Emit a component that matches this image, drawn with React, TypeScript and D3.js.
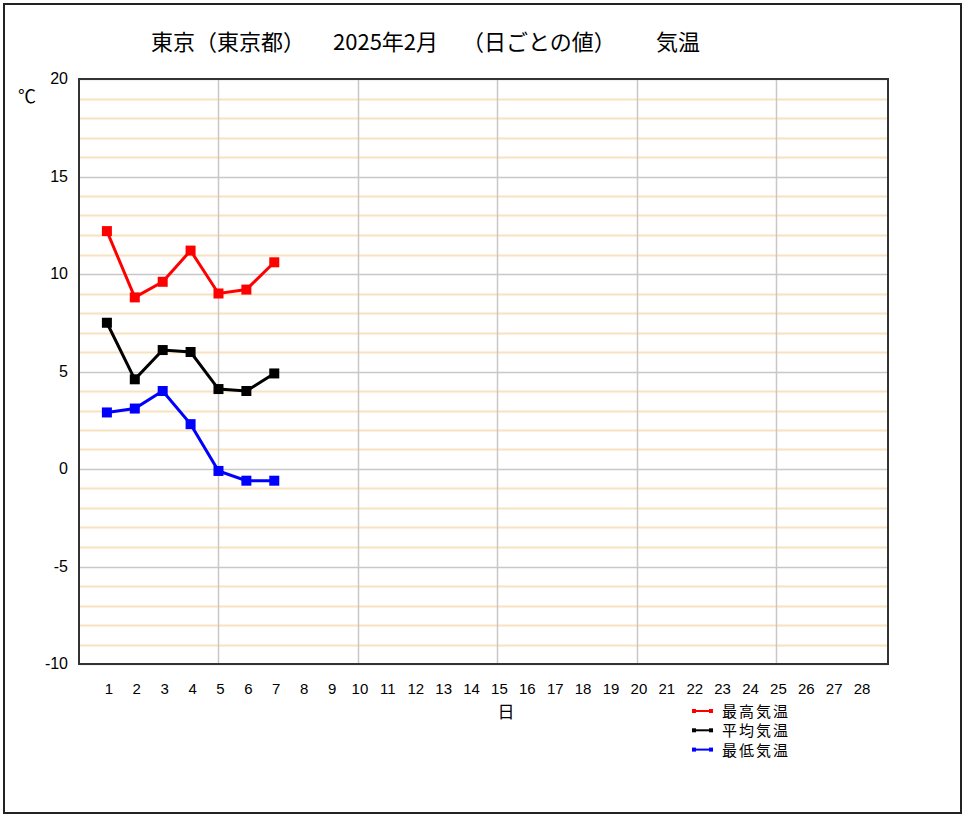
import { useEffect, useRef } from 'react';
import * as d3 from 'd3';

const days = [1, 2, 3, 4, 5, 6, 7];
const maxTemp = [12.2, 8.8, 9.6, 11.2, 9.0, 9.2, 10.6];
const meanTemp = [7.5, 4.6, 6.1, 6.0, 4.1, 4.0, 4.9];
const minTemp = [2.9, 3.1, 4.0, 2.3, -0.1, -0.6, -0.6];
const xTickLabels = d3.range(1, 29);
const yTickLabels = [20, 15, 10, 5, 0, -5, -10];
const seriesNames = ['最高気温', '平均気温', '最低気温'];
const seriesColors = ['#ff0000', '#000000', '#0000ff'];

const titleParts = [
  { text: '東京（東京都）', x: 151 },
  { text: '2025年2月', x: 333 },
  { text: '（日ごとの値）', x: 462 },
  { text: '気温', x: 656 },
];

export default function App() {
  const svgRef = useRef<SVGSVGElement>(null);

  useEffect(() => {
    if (!svgRef.current) return;
    const svg = d3.select(svgRef.current);
    svg.selectAll('*').remove();

    const W = 967;
    const H = 819;
    const plot = { left: 79, top: 79, right: 888, bottom: 664 };
    const jp = '"Noto Sans CJK JP", sans-serif';
    const num = '"Liberation Sans", Arial, sans-serif';

    svg.attr('width', W).attr('height', H);

    // Outer frame
    svg
      .append('rect')
      .attr('x', 4)
      .attr('y', 4)
      .attr('width', 957)
      .attr('height', 809)
      .attr('fill', 'white')
      .attr('stroke', '#222')
      .attr('stroke-width', 2);

    const x = d3.scaleLinear().domain([0, 29]).range([plot.left, plot.right]);
    const y = d3.scaleLinear().domain([-10, 20]).range([plot.bottom, plot.top]);

    // Minor (beige) horizontal grid
    const minor = d3.range(-10, 21).filter((v) => v % 5 !== 0);
    svg
      .append('g')
      .selectAll('line')
      .data(minor)
      .enter()
      .append('line')
      .attr('x1', plot.left)
      .attr('x2', plot.right)
      .attr('y1', (d) => Math.round(y(d)) + 0.5)
      .attr('y2', (d) => Math.round(y(d)) + 0.5)
      .attr('stroke', '#f8e2c0')
      .attr('stroke-width', 2);

    // Major (gray) horizontal grid
    svg
      .append('g')
      .selectAll('line')
      .data(yTickLabels)
      .enter()
      .append('line')
      .attr('x1', plot.left)
      .attr('x2', plot.right)
      .attr('y1', (d) => Math.round(y(d)) + 0.5)
      .attr('y2', (d) => Math.round(y(d)) + 0.5)
      .attr('stroke', '#c8c8c8')
      .attr('stroke-width', 1.5);

    // Vertical grid every 5 days
    svg
      .append('g')
      .selectAll('line')
      .data([5, 10, 15, 20, 25])
      .enter()
      .append('line')
      .attr('x1', (d) => Math.round(x(d)) + 0.5)
      .attr('x2', (d) => Math.round(x(d)) + 0.5)
      .attr('y1', plot.top)
      .attr('y2', plot.bottom)
      .attr('stroke', '#c8c8c8')
      .attr('stroke-width', 1.5);

    // Plot frame
    svg
      .append('rect')
      .attr('x', plot.left)
      .attr('y', plot.top)
      .attr('width', plot.right - plot.left)
      .attr('height', plot.bottom - plot.top)
      .attr('fill', 'none')
      .attr('stroke', '#333')
      .attr('stroke-width', 2);

    // Y tick labels
    svg
      .append('g')
      .selectAll('text')
      .data(yTickLabels)
      .enter()
      .append('text')
      .attr('x', 68)
      .attr('y', (d) => y(d) + 5)
      .attr('text-anchor', 'end')
      .style('font-family', num)
      .style('font-size', '16px')
      .text((d) => d);

    svg
      .append('text')
      .attr('x', 27)
      .attr('y', 103)
      .attr('text-anchor', 'middle')
      .style('font-family', jp)
      .style('font-size', '18px')
      .text('℃');

    // X tick labels
    svg
      .append('g')
      .selectAll('text')
      .data(xTickLabels)
      .enter()
      .append('text')
      .attr('x', (d) => x(d) + 2)
      .attr('y', 694)
      .attr('text-anchor', 'middle')
      .style('font-family', num)
      .style('font-size', '15px')
      .text((d) => d);

    svg
      .append('text')
      .attr('x', 506)
      .attr('y', 718)
      .attr('text-anchor', 'middle')
      .style('font-family', jp)
      .style('font-size', '17px')
      .text('日');

    // Title
    svg
      .append('g')
      .selectAll('text')
      .data(titleParts)
      .enter()
      .append('text')
      .attr('x', (d) => d.x)
      .attr('y', 50)
      .style('font-family', jp)
      .style('font-size', '22px')
      .text((d) => d.text);

    // Series
    const series = [maxTemp, meanTemp, minTemp];
    const line = d3
      .line<number>()
      .x((_, i) => x(days[i]))
      .y((d) => y(d));

    series.forEach((values, si) => {
      const color = seriesColors[si];
      svg
        .append('path')
        .datum(values)
        .attr('fill', 'none')
        .attr('stroke', color)
        .attr('stroke-width', 3)
        .attr('d', line);

      svg
        .append('g')
        .selectAll('rect')
        .data(values)
        .enter()
        .append('rect')
        .attr('x', (_, i) => x(days[i]) - 5)
        .attr('y', (d) => y(d) - 5)
        .attr('width', 10)
        .attr('height', 10)
        .attr('fill', color);
    });

    // Legend
    const legend = svg.append('g');
    seriesNames.forEach((name, i) => {
      const ly = 711 + i * 19.3;
      const color = seriesColors[i];
      legend
        .append('line')
        .attr('x1', 694)
        .attr('x2', 711)
        .attr('y1', ly)
        .attr('y2', ly)
        .attr('stroke', color)
        .attr('stroke-width', 2);
      [694, 711].forEach((lx) => {
        legend
          .append('rect')
          .attr('x', lx - 2)
          .attr('y', ly - 2)
          .attr('width', 4)
          .attr('height', 4)
          .attr('fill', color);
      });
      legend
        .append('text')
        .attr('x', 722)
        .attr('y', ly + 6)
        .style('font-family', jp)
        .style('font-size', '15px')
        .style('letter-spacing', '2px')
        .text(name);
    });
  }, []);

  return (
    <div style={{ position: 'absolute', left: 0, top: 0 }}>
      <svg ref={svgRef} style={{ display: 'block' }} />
    </div>
  );
}
